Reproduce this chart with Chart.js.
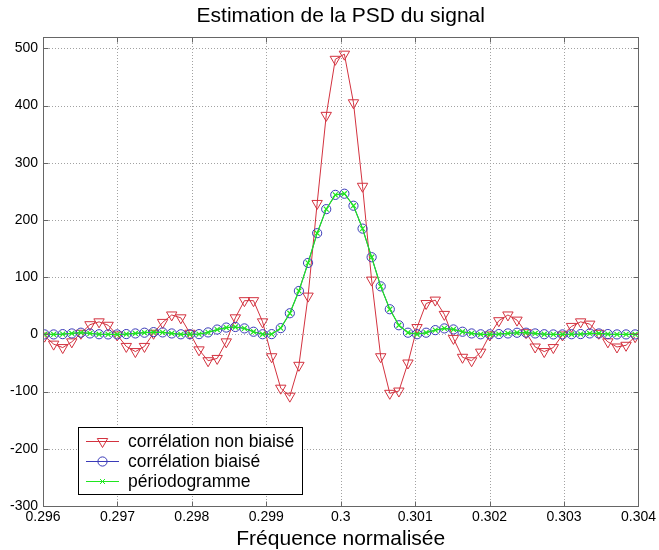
<!DOCTYPE html>
<html><head><meta charset="utf-8">
<script src="https://cdn.jsdelivr.net/npm/chart.js@4/dist/chart.umd.min.js"></script>
<style>html,body{margin:0;padding:0;background:#fff;}#wrap{width:659px;height:550px;}</style>
</head><body><div id="wrap"><canvas id="c" width="659" height="550"></canvas></div>
<script>
const titleText = 'Estimation de la PSD du signal';
const xTitleText = 'Fréquence normalisée';
const seriesNames = ['corrélation non biaisé', 'corrélation biaisé', 'périodogramme'];

const frequencies = [0.296021,0.296143,0.296265,0.296387,0.296509,0.296631,0.296753,0.296875,0.296997,0.297119,
0.297241,0.297363,0.297485,0.297607,0.297729,0.297852,0.297974,0.298096,0.298218,0.29834,
0.298462,0.298584,0.298706,0.298828,0.29895,0.299072,0.299194,0.299316,0.299438,0.299561,
0.299683,0.299805,0.299927,0.300049,0.300171,0.300293,0.300415,0.300537,0.300659,0.300781,
0.300903,0.301025,0.301147,0.30127,0.301392,0.301514,0.301636,0.301758,0.30188,0.302002,
0.302124,0.302246,0.302368,0.30249,0.302612,0.302734,0.302856,0.302979,0.303101,0.303223,
0.303345,0.303467,0.303589,0.303711,0.303833,0.303955];

const nonBiased = [-3,-17,-23,-13,2,17,22,16,-1,-21,
-30,-21,2,21,34,29,2,-27,-46,-42,
-13,29,59,59,22,-39,-94,-108,-54,67,
229,383,481,490,405,259,95,-39,-103,-99,
-50,12,54,60,35,-7,-40,-46,-31,-1,
24,34,25,3,-22,-30,-23,-1,14,22,
18,2,-13,-22,-19,-4];

const biased = [0,0,0.5,1.7,3,1.7,0.3,0,0,0.6,
1.7,3,4,3.5,1.7,0.2,0.3,0.5,3.5,8.5,
12,13,10.5,4.7,0.3,0.5,11,37,76,125,
177,219,244,246,225,185,135,84,44,16,
3,0.3,3,7.5,10.5,8.7,4.7,1.7,0.2,0.2,
0.6,1.7,2.9,3,1.7,0.3,0,0,0.3,0.6,
1.7,1.7,0.6,0,0,0];

const periodogram = [0,0,0.5,1.7,3,1.7,0.3,0,0,0.6,
1.7,3,4,3.5,1.7,0.2,0.3,0.5,3.5,8.5,
12,13,10.5,4.7,0.3,0.5,11,37,76,125,
177,219,244,246,225,185,135,84,44,16,
3,0.3,3,7.5,10.5,8.7,4.7,1.7,0.2,0.2,
0.6,1.7,2.9,3,1.7,0.3,0,0,0.3,0.6,
1.7,1.7,0.6,0,0,0];

const xTicks = [0.296,0.297,0.298,0.299,0.3,0.301,0.302,0.303,0.304];
const xTickLabels = ['0.296','0.297','0.298','0.299','0.3','0.301','0.302','0.303','0.304'];
const yTicks = [-300,-200,-100,0,100,200,300,400,500];
const yTickLabels = ['-300','-200','-100','0','100','200','300','400','500'];

const RED = '#d3323f', BLUE = '#3a3ab8', GREEN = '#1fe61f';
const FONT = "'Liberation Sans', Arial, Helvetica, sans-serif";

function pts(vals){ return frequencies.map((f,i)=>({x:f,y:vals[i]})); }

const gridPlugin = {
  id:'gridPlugin',
  afterLayout(chart){
    const tb = chart.titleBlock, a = chart.chartArea;
    if (tb && a) { tb.left = a.left; tb.right = a.right; tb.width = a.right - a.left; }
  },
  beforeDatasetsDraw(chart){
    const {ctx, chartArea:a, scales:{x,y}} = chart;
    ctx.save();
    ctx.strokeStyle = '#a2a2a2'; ctx.lineWidth = 1; ctx.setLineDash([1,2]);
    xTicks.forEach(v=>{ const px=Math.round(x.getPixelForValue(v))+0.5; ctx.beginPath(); ctx.moveTo(px,a.top); ctx.lineTo(px,a.bottom); ctx.stroke(); });
    yTicks.forEach(v=>{ const py=Math.round(y.getPixelForValue(v))+0.5; ctx.beginPath(); ctx.moveTo(a.left,py); ctx.lineTo(a.right,py); ctx.stroke(); });
    ctx.restore();
  },
  afterDatasetsDraw(chart){
    const {ctx, chartArea:a, scales:{x,y}} = chart;
    ctx.save();
    ctx.setLineDash([]);
    ctx.strokeStyle = '#666'; ctx.lineWidth = 1;
    const L=Math.round(a.left)+0.5, R=Math.round(a.right)+0.5, T=Math.round(a.top)+0.5, B=Math.round(a.bottom)+0.5;
    ctx.strokeRect(L,T,R-L,B-T);
    const tl=5;
    xTicks.forEach(v=>{ const px=Math.round(x.getPixelForValue(v))+0.5;
      ctx.beginPath(); ctx.moveTo(px,T); ctx.lineTo(px,T+tl); ctx.moveTo(px,B); ctx.lineTo(px,B-tl); ctx.stroke(); });
    yTicks.forEach(v=>{ const py=Math.round(y.getPixelForValue(v))+0.5;
      ctx.beginPath(); ctx.moveTo(L,py); ctx.lineTo(L+tl,py); ctx.moveTo(R,py); ctx.lineTo(R-tl,py); ctx.stroke(); });
    // legend box
    const bx=78.5, by=427.5, bw=224, bh=67;
    ctx.fillStyle='#fff'; ctx.fillRect(bx,by,bw,bh);
    ctx.strokeStyle='#000'; ctx.strokeRect(bx,by,bw,bh);
    const rows=[441.5,461.5,481.5];
    ctx.font = "17.5px " + FONT; ctx.textBaseline='middle'; ctx.textAlign='left';
    chart.data.datasets.forEach((ds,i)=>{
      const ry=rows[i];
      ctx.strokeStyle=ds.borderColor; ctx.lineWidth=1;
      ctx.beginPath(); ctx.moveTo(86,ry); ctx.lineTo(119,ry); ctx.stroke();
      const cx=102.5;
      ctx.beginPath();
      if(ds.pointStyle==='triangle'){
        const r=ds.pointRadius;
        ctx.moveTo(cx, ry + r); ctx.lineTo(cx - r*0.866, ry - r/2); ctx.lineTo(cx + r*0.866, ry - r/2); ctx.closePath();
      } else if(ds.pointStyle==='circle'){
        ctx.arc(cx,ry,ds.pointRadius,0,Math.PI*2);
      } else {
        const r=ds.pointRadius*0.707;
        ctx.moveTo(cx-r,ry-r); ctx.lineTo(cx+r,ry+r); ctx.moveTo(cx+r,ry-r); ctx.lineTo(cx-r,ry+r);
      }
      ctx.stroke();
      ctx.fillStyle='#000';
      ctx.fillText(ds.label, 128, ry+1);
    });
    ctx.restore();
  }
};

new Chart(document.getElementById('c'), {
  type:'line',
  data:{ datasets:[
    {label:seriesNames[0], data:pts(nonBiased), borderColor:RED, borderWidth:1, pointStyle:'triangle', rotation:180, pointRadius:6,
     pointBorderColor:RED, pointBackgroundColor:'rgba(0,0,0,0)', pointBorderWidth:1, tension:0, order:2},
    {label:seriesNames[1], data:pts(biased), borderColor:BLUE, borderWidth:1, pointStyle:'circle', pointRadius:4.6,
     pointBorderColor:BLUE, pointBackgroundColor:'rgba(0,0,0,0)', pointBorderWidth:1, tension:0, order:1},
    {label:seriesNames[2], data:pts(periodogram), borderColor:GREEN, borderWidth:1.2, pointStyle:'crossRot', pointRadius:3.5,
     pointBorderColor:GREEN, pointBackgroundColor:'rgba(0,0,0,0)', pointBorderWidth:1.2, tension:0, order:0}
  ]},
  options:{
    responsive:false, animation:false, devicePixelRatio:1, events:[],
    layout:{padding:{left:0,right:19,top:0,bottom:0}},
    plugins:{
      legend:{display:false}, tooltip:{enabled:false},
      title:{display:true, text:titleText, color:'#000', font:{family:FONT,size:21,weight:'normal',lineHeight:1.2}, padding:{top:4,bottom:7.8}}
    },
    scales:{
      x:{type:'linear', min:0.296, max:0.304,
        afterBuildTicks:(s)=>{ s.ticks = xTicks.map(v=>({value:v})); },
        afterFit:(s)=>{ s.height = 44; },
        grid:{display:false, drawTicks:false}, border:{display:false},
        ticks:{color:'#000', font:{family:FONT,size:14}, padding:3, maxRotation:0, autoSkip:false,
          callback:(v)=>{ const i=xTicks.findIndex(t=>Math.abs(t-v)<1e-9); return i>=0?xTickLabels[i]:''; }},
        title:{display:true, text:xTitleText, color:'#000', font:{family:FONT,size:21,lineHeight:1}, padding:{top:0,bottom:0}}
      },
      y:{type:'linear', min:-300, max:520,
        afterBuildTicks:(s)=>{ s.ticks = yTicks.map(v=>({value:v})); },
        afterFit:(s)=>{ s.width = 43; },
        grid:{display:false, drawTicks:false}, border:{display:false},
        ticks:{color:'#000', font:{family:FONT,size:14}, padding:5, autoSkip:false,
          callback:(v)=>{ const i=yTicks.indexOf(v); return i>=0?yTickLabels[i]:''; }}
      }
    }
  },
  plugins:[gridPlugin]
});
</script></body></html>
